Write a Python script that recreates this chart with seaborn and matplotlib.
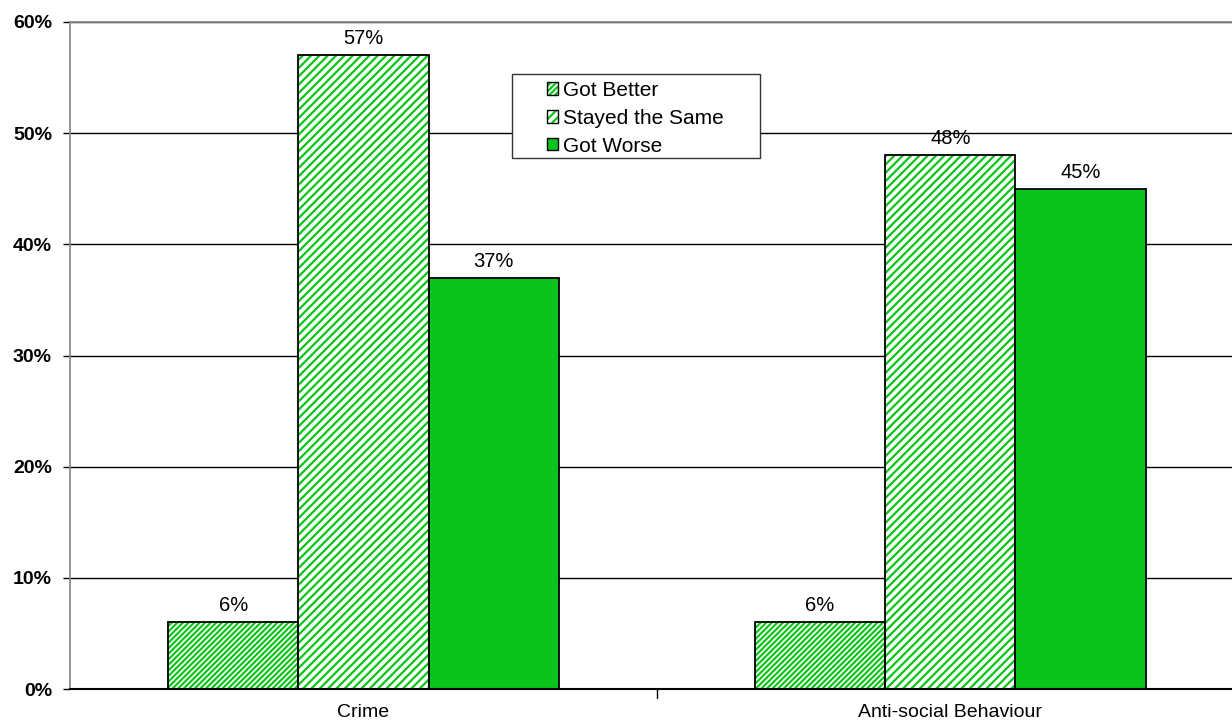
import matplotlib
matplotlib.use("Agg")
import matplotlib.pyplot as plt
import seaborn as sns
import pandas as pd
from matplotlib.patches import Rectangle, Patch
from matplotlib.legend_handler import HandlerTuple
from matplotlib.ticker import PercentFormatter

categories = ["Crime", "Anti-social Behaviour"]
series = ["Got Better", "Stayed the Same", "Got Worse"]
got_better = [6, 6]
stayed_same = [57, 48]
got_worse = [37, 45]

rows = []
for s, vals in zip(series, [got_better, stayed_same, got_worse]):
    for c, v in zip(categories, vals):
        rows.append({"category": c, "series": s, "value": v})
df = pd.DataFrame(rows)

sns.set_theme(style="white")
plt.rcParams["font.family"] = ["Liberation Sans", "DejaVu Sans"]
plt.rcParams["hatch.linewidth"] = 1.6
for k in ["text.color", "axes.labelcolor", "xtick.color", "ytick.color"]:
    plt.rcParams[k] = "black"

green = "#0AC41A"
hatches = {"Got Better": "//////", "Stayed the Same": "////", "Got Worse": ""}

fig = plt.figure(figsize=(12.32, 7.25), dpi=100)
ax = fig.add_axes([70 / 1232, 1 - 689 / 725, 1 - 70 / 1232, (689 - 22) / 725])

sns.barplot(data=df, x="category", y="value", hue="series", order=categories,
            hue_order=series, width=0.666, ax=ax, legend=False,
            palette=[green] * 3)

for container, s in zip(ax.containers, series):
    for bar in container:
        if hatches[s]:
            bar.set_facecolor("white")
            bar.set_edgecolor(green)
            bar.set_hatch(hatches[s])
            bar.set_linewidth(0)
        else:
            bar.set_facecolor(green)
            bar.set_edgecolor("black")
            bar.set_linewidth(1.3)
        bar.set_zorder(2)
        if hatches[s]:
            ax.add_patch(Rectangle(bar.get_xy(), bar.get_width(), bar.get_height(),
                                   fill=False, edgecolor="black", linewidth=1.3, zorder=3))
    ax.bar_label(container, labels=[f"{int(round(b.get_height()))}%" for b in container],
                 padding=5, fontsize=14.5, color="black")

ax.set_ylim(0, 60)
ax.set_yticks(range(0, 61, 10))
ax.yaxis.set_major_formatter(PercentFormatter(decimals=0))
ax.set_xlim(-0.5, 1.48)
ax.set_xticks([0, 1])
ax.set_xticklabels(categories, fontsize=14, color="black")
for lab in ax.get_yticklabels():
    lab.set_fontsize(14)
    lab.set_fontweight("bold")
    lab.set_color("black")
ax.set_xlabel("")
ax.set_ylabel("")
ax.yaxis.grid(True, color="black", linewidth=1)
ax.set_axisbelow(True)
ax.tick_params(axis="y", length=5, width=1, color="black", pad=8, left=True)
ax.tick_params(axis="x", length=0, pad=11)
ax.axvline(0.5, ymin=-0.013, ymax=0, color="black", linewidth=1, clip_on=False)

ax.spines["right"].set_visible(False)
ax.spines["top"].set_color("#888888")
ax.spines["left"].set_color("#888888")
ax.spines["bottom"].set_color("black")
ax.spines["bottom"].set_linewidth(1.5)

# legend frame
ax.add_patch(Rectangle((442 / 1162, 531 / 667), 248 / 1162, 84 / 667,
                       transform=ax.transAxes, facecolor="white", edgecolor="#333333",
                       linewidth=1, zorder=5))

handles = []
for s in series:
    if hatches[s]:
        h = (Patch(facecolor="white", edgecolor=green, hatch=hatches[s], linewidth=0),
             Patch(facecolor="none", edgecolor="black", linewidth=1))
    else:
        h = Patch(facecolor=green, edgecolor="black", linewidth=1)
    handles.append(h)
leg = ax.legend(handles=handles, labels=series, loc="upper left",
                bbox_to_anchor=(477 / 1162, 608 / 667),
                handler_map={tuple: HandlerTuple(ndivide=1, pad=0)},
                fontsize=15, frameon=False, handlelength=0.55,
                handleheight=0.55, handletextpad=0.2, borderpad=0, borderaxespad=0,
                labelspacing=0.42)
leg.set_zorder(6)
for t in leg.get_texts():
    t.set_color("black")

fig.savefig("out.png", dpi=100)
